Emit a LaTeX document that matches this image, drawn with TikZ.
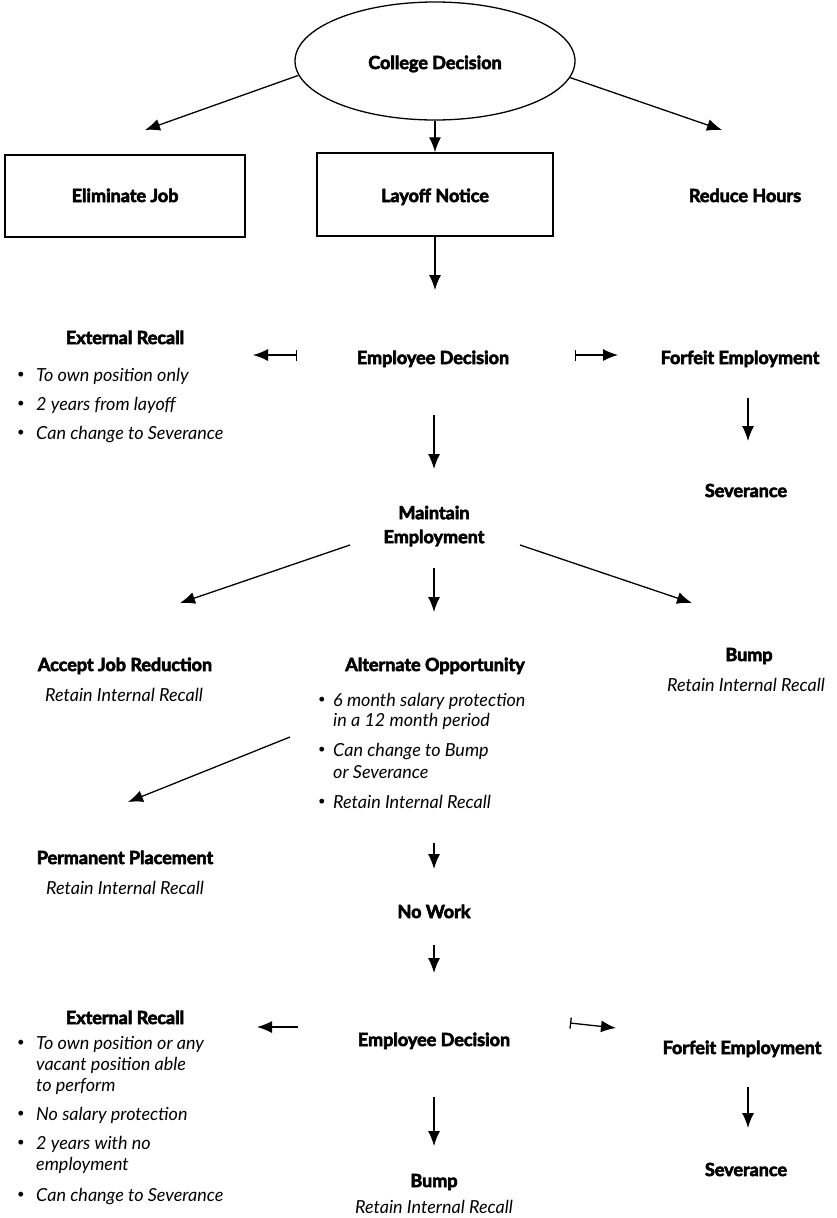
\documentclass[tikz,border=0pt]{standalone}
\usepackage{fontspec}
\setmainfont{Lato}[BoldFeatures={FakeBold=3.5}]
\usetikzlibrary{arrows.meta,shapes.geometric}
\begin{document}
\begin{tikzpicture}[x=1pt,y=-1pt,
  bt/.style={font=\bfseries\fontsize{18}{22}\selectfont, inner sep=0pt, anchor=base, yshift=-6pt},
  it/.style={font=\itshape\fontsize{18}{22}\selectfont, inner sep=0pt, anchor=base, yshift=-6pt},
  li/.style={font=\itshape\fontsize{18}{22}\selectfont, inner sep=0pt, anchor=base west, yshift=-6pt},
  bul/.style={font=\fontsize{13}{15}\selectfont, inner sep=0pt, anchor=center},
  box/.style={draw, line width=1.5pt, inner sep=0pt},
  ar/.style={line width=1.3pt, -{Latex[length=15pt,width=12pt]}},
  bar/.style={line width=1.3pt, {Bar[width=11pt,line width=1.3pt]}-{Latex[length=15pt,width=12pt]}}
]
\useasboundingbox (0,0) rectangle (837,1218);
\fill[white] (0,0) rectangle (837,1218);

% top
\node[draw, ellipse, line width=1.3pt, minimum width=280pt, minimum height=118pt, inner sep=0pt] (cd) at (435,61) {};
\node[bt] (cdt) at (435,63) {College Decision};
\node[box, minimum width=240pt, minimum height=82pt] (ej) at (125,196) {};
\node[bt] (ejt) at (125,196) {Eliminate Job};
\node[box, minimum width=236pt, minimum height=83pt] (ln) at (435,194.5) {};
\node[bt] (lnt) at (435,196) {Layoff Notice};
\node[bt] (rh) at (745,196) {Reduce Hours};
\coordinate (t1) at (145,130);
\coordinate (t2) at (722,130);
\draw[ar] (cd.186) -- (t1);
\draw[ar] (cd.south) -- (ln.north);
\draw[ar] (cd.-7) -- (t2);

% first employee decision
\coordinate (e1) at (435,290);
\draw[ar] (ln.south) -- (e1);
\node[bt] (ed1) at (433,358) {Employee Decision};
\node[bt] (er1) at (125,338) {External Recall};
\node[bul] (b11) at (21,375) {•};
\node[li] (l11) at (36,375) {To own position only};
\node[bul] (b12) at (21,404) {•};
\node[li] (l12) at (36,404) {2 years from layoff};
\node[bul] (b13) at (21,433) {•};
\node[li] (l13) at (36,433) {Can change to Severance};
\node[bt] (fe1) at (740,358) {Forfeit Employment};
\node[bt] (sv1) at (746,491) {Severance};
\coordinate (s1a) at (297,355);
\coordinate (s1b) at (253,355);
\draw[bar] (s1a) -- (s1b);
\coordinate (s2a) at (575,355);
\coordinate (s2b) at (618,355);
\draw[bar] (s2a) -- (s2b);
\coordinate (s3a) at (748,398);
\coordinate (s3b) at (748,441);
\draw[ar] (s3a) -- (s3b);

% maintain
\node[font=\bfseries\fontsize{18}{24}\selectfont, inner sep=0pt, align=center] (me) at (434,526) {Maintain\\Employment};
\coordinate (s4a) at (434,415);
\coordinate (s4b) at (434,469);
\draw[ar] (s4a) -- (s4b);
\coordinate (m1) at (350,545);
\coordinate (m1e) at (180,603);
\draw[ar] (m1) -- (m1e);
\coordinate (m2) at (434,568);
\coordinate (m2e) at (434,612);
\draw[ar] (m2) -- (m2e);
\coordinate (m3) at (520,545);
\coordinate (m3e) at (692,603);
\draw[ar] (m3) -- (m3e);

\node[bt] (aj) at (125,665) {Accept Job Reduction};
\node[it] (ajr) at (124,695) {Retain Internal Recall};
\node[bt] (ao) at (435,665) {Alternate Opportunity};
\node[bul] (b21) at (322,700) {•};
\node[li] (l21) at (333,700) {6 month salary protection};
\node[li] (l21b) at (333,720) {in a 12 month period};
\node[bul] (b22) at (322,750) {•};
\node[li] (l22) at (333,750) {Can change to Bump};
\node[li] (l22b) at (333,772) {or Severance};
\node[bul] (b23) at (322,802) {•};
\node[li] (l23) at (333,802) {Retain Internal Recall};
\node[bt] (bp1) at (749,655) {Bump};
\node[it] (bp1r) at (746,685) {Retain Internal Recall};

\coordinate (p1) at (290,737);
\coordinate (p1e) at (128,802);
\draw[ar] (p1) -- (p1e);
\node[bt] (pp) at (125,858) {Permanent Placement};
\node[it] (ppr) at (125,888) {Retain Internal Recall};

\coordinate (n1) at (434,843);
\coordinate (n1e) at (434,869);
\draw[ar] (n1) -- (n1e);
\node[bt] (nw) at (434,912) {No Work};
\coordinate (n2) at (434,945);
\coordinate (n2e) at (434,973);
\draw[ar] (n2) -- (n2e);

% second employee decision
\node[bt] (ed2) at (434,1040) {Employee Decision};
\node[bt] (er2) at (125,1018) {External Recall};
\node[bul] (b31) at (21,1043) {•};
\node[li] (l31) at (36,1043) {To own position or any};
\node[li] (l31b) at (36,1064) {vacant position able};
\node[li] (l31c) at (36,1085) {to perform};
\node[bul] (b32) at (21,1114) {•};
\node[li] (l32) at (36,1114) {No salary protection};
\node[bul] (b33) at (21,1143) {•};
\node[li] (l33) at (36,1143) {2 years with no};
\node[li] (l33b) at (36,1164) {employment};
\node[bul] (b34) at (21,1195) {•};
\node[li] (l34) at (36,1195) {Can change to Severance};
\node[bt] (fe2) at (742,1048) {Forfeit Employment};
\node[bt] (sv2) at (746,1170) {Severance};
\node[bt] (bp2) at (434,1181) {Bump};
\node[it] (bp2r) at (434,1207) {Retain Internal Recall};

\coordinate (r1) at (298,1027);
\coordinate (r1e) at (257,1027);
\draw[ar] (r1) -- (r1e);
\coordinate (r2) at (570,1023);
\coordinate (r2e) at (616,1028);
\draw[bar] (r2) -- (r2e);
\coordinate (r3) at (748,1087);
\coordinate (r3e) at (748,1128);
\draw[ar] (r3) -- (r3e);
\coordinate (r4) at (434,1097);
\coordinate (r4e) at (434,1146);
\draw[ar] (r4) -- (r4e);
\end{tikzpicture}
\end{document}
